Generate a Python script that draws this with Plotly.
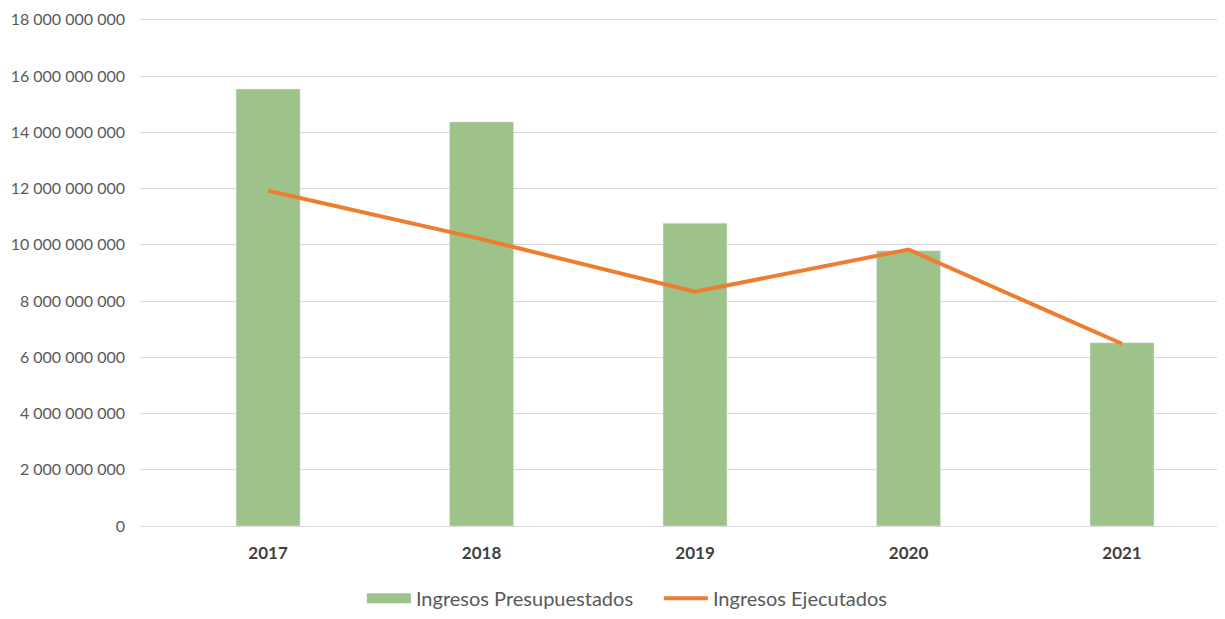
import plotly.graph_objects as go

# values
years = ["2017", "2018", "2019", "2020", "2021"]
presupuestados = [15540000000, 14370000000, 10770000000, 9790000000, 6520000000]
ejecutados = [11920000000, 10200000000, 8330000000, 9830000000, 6480000000]
y_ticks = [0, 2e9, 4e9, 6e9, 8e9, 10e9, 12e9, 14e9, 16e9, 18e9]

GREEN = "#9DC38A"
ORANGE = "#ED7D31"

fig = go.Figure()

fig.add_trace(go.Bar(
    x=years,
    y=presupuestados,
    name="Ingresos Presupuestados",
    marker_color=GREEN,
    width=0.3,
    showlegend=False,
    legendgroup="pres",
))

# legend entry only, gives the wide rectangle swatch of the original
fig.add_trace(go.Scatter(
    x=[None],
    y=[None],
    mode="lines",
    name="Ingresos Presupuestados",
    line=dict(color=GREEN, width=11),
    legendgroup="pres",
))

fig.add_trace(go.Scatter(
    x=years,
    y=ejecutados,
    mode="lines",
    name="Ingresos Ejecutados",
    line=dict(color=ORANGE, width=4),
))

# page body adds an 8px offset, margins compensate for it
fig.update_layout(
    width=1225,
    height=619,
    margin=dict(l=132, r=0, t=9, b=101),
    plot_bgcolor="white",
    paper_bgcolor="white",
    separators=", ",
    font=dict(family="Lato", size=16, color="#595959"),
    showlegend=True,
    legend=dict(
        orientation="h",
        x=0.203,
        xanchor="left",
        y=-0.142,
        yanchor="middle",
        font=dict(size=20, color="#595959"),
        itemwidth=44,
        entrywidth=238,
        entrywidthmode="pixels",
        tracegroupgap=0,
    ),
)

fig.update_xaxes(
    type="category",
    range=[-0.6, 4.52],
    showgrid=False,
    showline=False,
    ticks="",
    ticklabelstandoff=15,
    tickfont=dict(family="Lato", size=17, color="#404040", weight="bold"),
)

fig.update_yaxes(
    range=[0, 18.1e9],
    tickvals=y_ticks,
    tickformat=",d",
    showgrid=True,
    gridcolor="#D9D9D9",
    gridwidth=1.2,
    zeroline=True,
    zerolinecolor="#D9D9D9",
    zerolinewidth=1.2,
    ticks="",
    ticklabelstandoff=14,
    tickfont=dict(family="Lato", size=16, color="#595959"),
)

fig.write_html("out.html")
